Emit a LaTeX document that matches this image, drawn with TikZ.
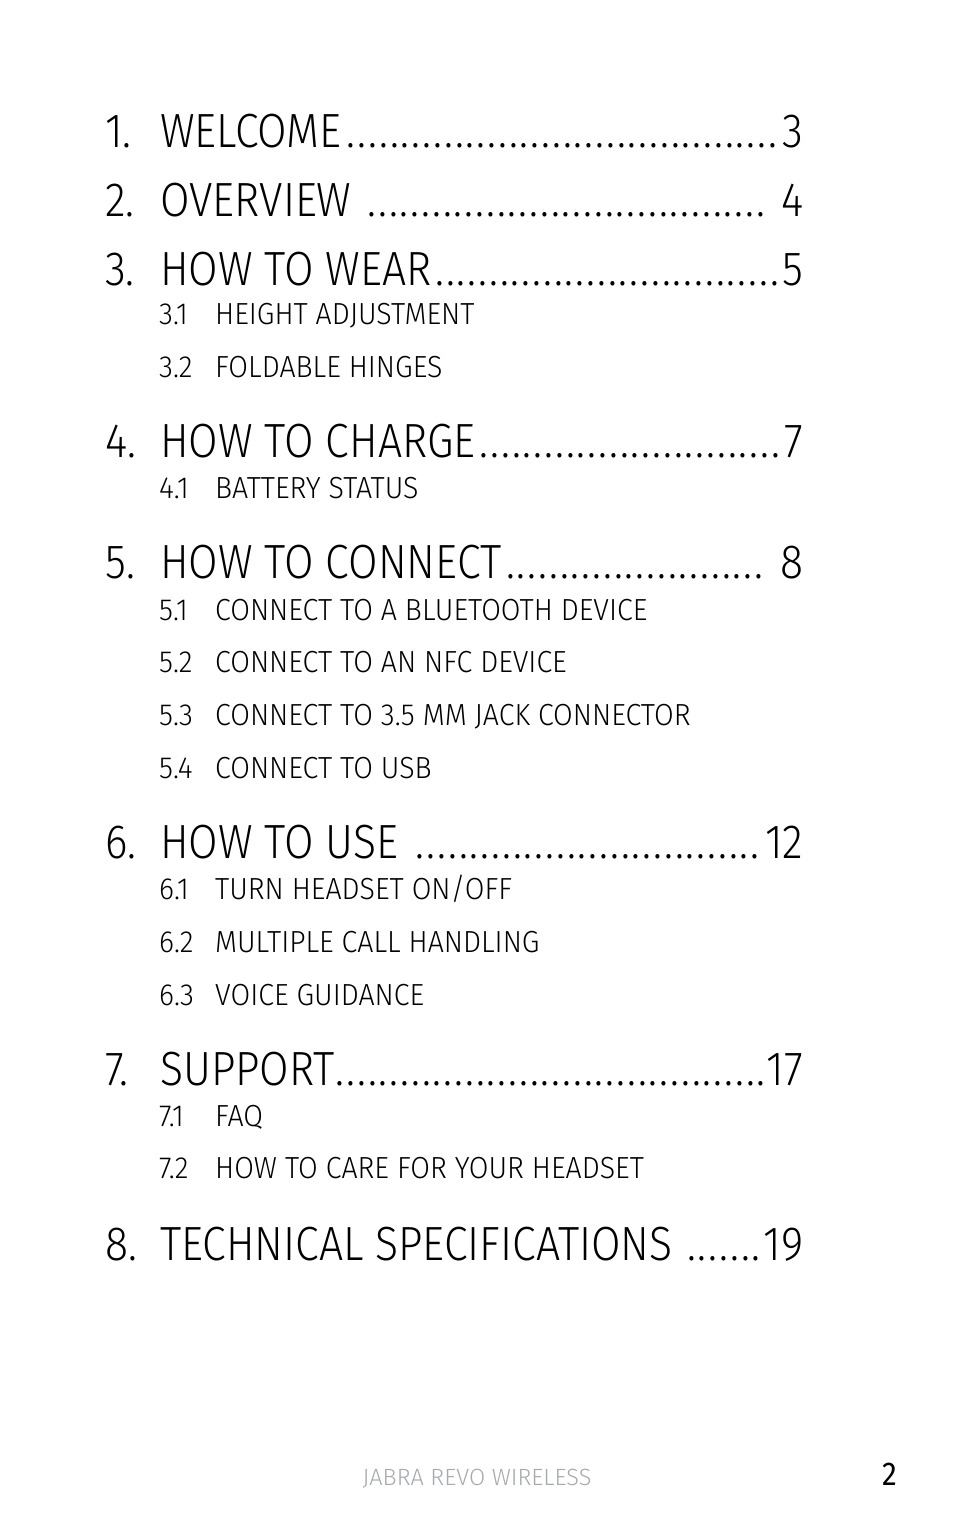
\documentclass[tikz,border=0pt]{standalone}
\usepackage{fontspec}
\setmainfont{Fira Sans Light}[FakeStretch=0.89]
\newfontfamily\subfont{Fira Sans Light}[FakeStretch=0.935]
\newfontfamily\footfont{Fira Sans Light}[FakeStretch=1.0]
\newfontfamily\pagefont{Fira Sans}[FakeStretch=0.9]
\definecolor{footgray}{HTML}{A7AAAE}
\newcommand\tocDots{\cleaders\hbox to 10.8pt{\hss.\hss}\hfill}
\newcommand\tocHead[3]{\hbox to 698pt{\hbox to 55pt{#1\hfil}#2\tocDots#3}}
\newcommand\tocSub[2]{\hbox{\hbox to 56pt{#1\hfil}#2}}
\tikzset{
  head/.style={anchor=base west, inner sep=0pt, font=\fontsize{48}{48}\selectfont},
  subitem/.style={anchor=base west, inner sep=0pt, font=\subfont\fontsize{30.5}{30.5}\selectfont},
  foot/.style={anchor=base, inner sep=0pt, font=\footfont\fontsize{23.5}{23.5}\selectfont, text=footgray},
  pagenum/.style={anchor=base east, inner sep=0pt, font=\pagefont\fontsize{33}{33}\selectfont},
}
\begin{document}
\begin{tikzpicture}[x=1pt,y=-1pt]
\useasboundingbox[fill=white] (0,0) rectangle (954,1536);
\node[head] (h1) at (105,147) {\tocHead{1.}{WELCOME}{3}};
\node[head] (h2) at (105,216) {\tocHead{2.}{OVERVIEW }{ 4}};
\node[head] (h3) at (105,285) {\tocHead{3.}{HOW TO WEAR}{5}};
\node[subitem] (s31) at (159,324.5) {\tocSub{3.1}{HEIGHT ADJUSTMENT}};
\node[subitem] (s32) at (159,377.5) {\tocSub{3.2}{FOLDABLE HINGES}};
\node[head] (h4) at (105,457.5) {\tocHead{4.}{HOW TO CHARGE}{7}};
\node[subitem] (s41) at (159,498.5) {\tocSub{4.1}{BATTERY STATUS}};
\node[head] (h5) at (105,578.5) {\tocHead{5.}{HOW TO CONNECT}{ 8}};
\node[subitem] (s51) at (159,620) {\tocSub{5.1}{CONNECT TO A BLUETOOTH DEVICE}};
\node[subitem] (s52) at (159,672.5) {\tocSub{5.2}{CONNECT TO AN NFC DEVICE}};
\node[subitem] (s53) at (159,725.5) {\tocSub{5.3}{CONNECT TO 3.5 MM JACK CONNECTOR}};
\node[subitem] (s54) at (159,778.5) {\tocSub{5.4}{CONNECT TO USB}};
\node[head] (h6) at (105,858.5) {\tocHead{6.}{HOW TO USE }{12}};
\node[subitem] (s61) at (159,899.5) {\tocSub{6.1}{TURN HEADSET ON/OFF}};
\node[subitem] (s62) at (159,952) {\tocSub{6.2}{MULTIPLE CALL HANDLING}};
\node[subitem] (s63) at (159,1005) {\tocSub{6.3}{VOICE GUIDANCE}};
\node[head] (h7) at (105,1085) {\tocHead{7.}{SUPPORT}{17}};
\node[subitem] (s71) at (159,1126) {\tocSub{7.1}{FAQ}};
\node[subitem] (s72) at (159,1178.5) {\tocSub{7.2}{HOW TO CARE FOR YOUR HEADSET}};
\node[head] (h8) at (105,1260) {\tocHead{8.}{TECHNICAL SPECIFICATIONS }{19}};
\node[foot] (ft) at (477,1485) {JABRA REVO WIRELESS};
\node[pagenum] (pg) at (897,1485) {2};
\end{tikzpicture}
\end{document}
